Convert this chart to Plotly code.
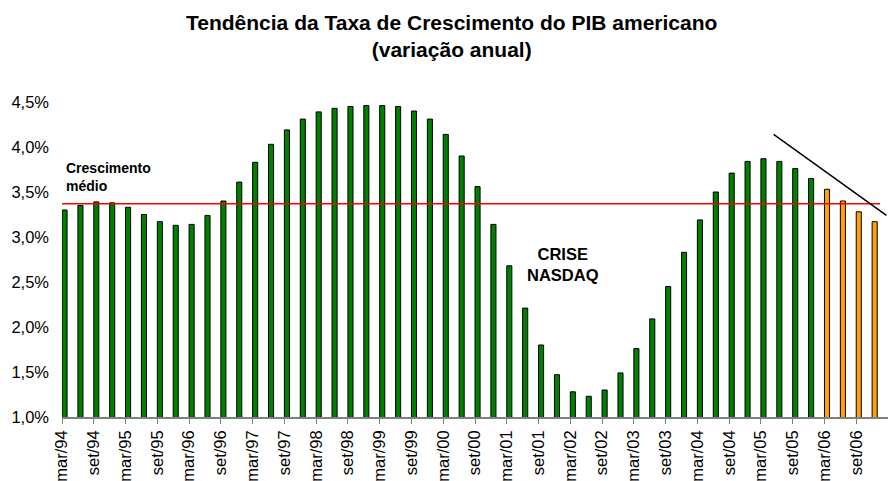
import plotly.graph_objs as go

## quarterly series (% annual change), mar/94 .. dez/06
realizado = [3.30, 3.35, 3.39, 3.38, 3.33, 3.25, 3.17, 3.13, 3.14, 3.24,
             3.40, 3.61, 3.83, 4.03, 4.19, 4.31, 4.39, 4.43, 4.45, 4.46,
             4.46, 4.45, 4.40, 4.31, 4.14, 3.90, 3.56, 3.14, 2.68, 2.21,
             1.80, 1.47, 1.28, 1.23, 1.30, 1.49, 1.76, 2.09, 2.45, 2.83,
             3.19, 3.50, 3.71, 3.84, 3.87, 3.84, 3.76, 3.65]
projecao = [3.53, 3.40, 3.28, 3.17]
media = 3.37

tick_labels = ['mar/94', 'set/94', 'mar/95', 'set/95', 'mar/96', 'set/96',
               'mar/97', 'set/97', 'mar/98', 'set/98', 'mar/99', 'set/99',
               'mar/00', 'set/00', 'mar/01', 'set/01', 'mar/02', 'set/02',
               'mar/03', 'set/03', 'mar/04', 'set/04', 'mar/05', 'set/05',
               'mar/06', 'set/06']

## trend line end points (quarter index, %)
tendencia_x = [44.8, 51.9]
tendencia_y = [4.14, 3.24]

FONT = 'Liberation Sans, Arial, sans-serif'

x_real = list(range(len(realizado)))
x_proj = list(range(len(realizado), len(realizado) + len(projecao)))
n_total = len(realizado) + len(projecao)

data = [
    go.Bar(x=x_real, y=realizado,
           width=0.32, offset=0,
           marker=dict(color='#008000', line=dict(color='black', width=1)),
           hoverinfo='y'),
    go.Bar(x=x_proj, y=projecao,
           width=0.32, offset=0,
           marker=dict(color='#FFA200', line=dict(color='black', width=1)),
           hoverinfo='y'),
]

layout = go.Layout(
    width=888, height=481,
    paper_bgcolor='white', plot_bgcolor='white',
    showlegend=False,
    barmode='overlay',
    separators=',.',
    font=dict(family=FONT, color='black'),
    margin=dict(l=62, r=0, t=102, b=64),
    xaxis=dict(range=[0, 52], showgrid=False, zeroline=False,
               tickmode='array',
               tickvals=list(range(0, n_total, 2)),
               ticktext=tick_labels,
               tickangle=-90,
               ticks='outside', ticklen=5, tickcolor='#808080',
               showline=True, linecolor='#808080', linewidth=1.5,
               tickfont=dict(size=16.5, family=FONT),
               automargin=False),
    yaxis=dict(range=[1.0, 4.5], showgrid=False, zeroline=False,
               dtick=0.5, tick0=1.0,
               tickformat='.1f', ticksuffix='%',
               ticks='', ticklabelstandoff=12,
               showline=False,
               tickfont=dict(size=16.5, family=FONT),
               automargin=False),
    shapes=[
        dict(type='line', xref='x', yref='y', x0=0, x1=51.5, y0=media, y1=media,
             line=dict(color='#FF0000', width=1.5), layer='above'),
        dict(type='line', xref='x', yref='y',
             x0=tendencia_x[0], x1=tendencia_x[1], y0=tendencia_y[0], y1=tendencia_y[1],
             line=dict(color='black', width=1.5), layer='above'),
    ],
    annotations=[
        ## chart title
        dict(text='<b>Tendência da Taxa de Crescimento do PIB americano<br>(variação anual)</b>',
             xref='paper', yref='paper', x=0.472, y=1.295,
             xanchor='center', yanchor='top', align='center',
             showarrow=False, font=dict(size=21, family=FONT)),
        dict(text='<b>Crescimento<br>médio</b>', xref='x', yref='y',
             x=0.15, y=3.67, xanchor='left', yanchor='middle', align='left',
             showarrow=False, font=dict(size=14, family=FONT)),
        dict(text='<b>CRISE<br>NASDAQ</b>', xref='x', yref='y',
             x=31.57, y=2.69, xanchor='center', yanchor='middle', align='center',
             showarrow=False, font=dict(size=16.5, family=FONT)),
    ],
)

fig = go.Figure(data=data, layout=layout)
fig.write_html('out.html', config={'displayModeBar': False},
               post_script="document.body.style.margin='0';")
